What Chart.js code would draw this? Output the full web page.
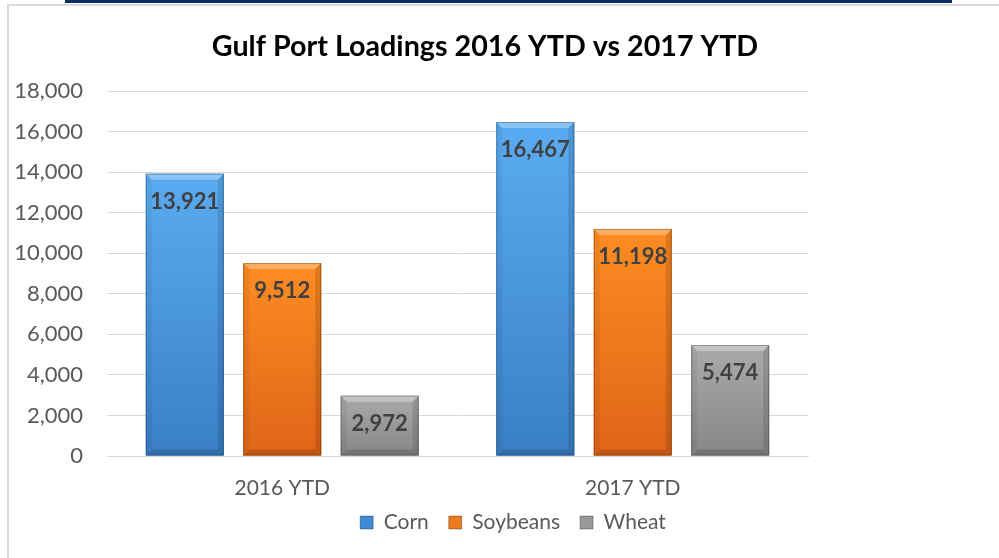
<!DOCTYPE html>
<html>
<head>
<meta charset="utf-8">
<script src="https://cdn.jsdelivr.net/npm/chart.js@4.4.1/dist/chart.umd.min.js"></script>
<style>
  html, body { margin: 0; padding: 0; background: #fff; overflow: hidden; }
  body { width: 999px; height: 558px; position: relative; }
  .navy { position: absolute; left: 65px; top: 0; width: 887px; height: 3px; background: #0c2a64; }
  .frame { position: absolute; left: 7px; top: 4px; right: -2px; bottom: -2px;
           border-top: 2px solid #d9d9d9; border-left: 2px solid #d9d9d9; }
  .wrap { position: absolute; left: 8px; top: 6px; width: 1010px; height: 552px; }
</style>
</head>
<body>
<div class="navy"></div>
<div class="frame"></div>
<div class="wrap"><canvas id="chart"></canvas></div>
<script>
// values
const TITLE = 'Gulf Port Loadings 2016 YTD vs 2017 YTD';
const categories = ['2016 YTD', '2017 YTD'];
const corn = [13921, 16467];
const soybeans = [9512, 11198];
const wheat = [2972, 5474];
const yTicks = [0, 2000, 4000, 6000, 8000, 10000, 12000, 14000, 16000, 18000];

const FONT = 'Lato, "Open Sans", sans-serif';

// top / bottom shades per series
const shades = {
  Corn:     { top: '#5aacf2', bottom: '#3a7fc4', legend: '#3f8bd4' },
  Soybeans: { top: '#fc8c22', bottom: '#df6518', legend: '#ec7a1e' },
  Wheat:    { top: '#aaaaaa', bottom: '#878787', legend: '#999999' },
};

/* ── gradient fill + bevel on each bar ───────────── */
const bevelPlugin = {
  id: 'bevel',
  afterDatasetsDraw(chart) {
    const c = chart.ctx;
    chart.data.datasets.forEach((ds, i) => {
      const s = shades[ds.label];
      chart.getDatasetMeta(i).data.forEach(bar => {
        const l = bar.x - bar.width / 2, r = bar.x + bar.width / 2;
        const t = bar.y, b = bar.base, d = 6;
        const poly = (pts, fill) => {
          c.beginPath();
          c.moveTo(pts[0][0], pts[0][1]);
          pts.slice(1).forEach(p => c.lineTo(p[0], p[1]));
          c.closePath();
          c.fillStyle = fill;
          c.fill();
        };
        c.save();
        const g = c.createLinearGradient(0, t, 0, b);
        g.addColorStop(0, s.top);
        g.addColorStop(1, s.bottom);
        c.fillStyle = g;
        c.fillRect(l, t, r - l, b - t);
        poly([[l, t], [r, t], [r - d, t + d], [l + d, t + d]], 'rgba(255,255,255,0.3)');
        poly([[l, b], [r, b], [r - d, b - d], [l + d, b - d]], 'rgba(0,0,0,0.14)');
        poly([[l, t], [l + d, t + d], [l + d, b - d], [l, b]], 'rgba(0,0,0,0.05)');
        poly([[r, t], [r - d, t + d], [r - d, b - d], [r, b]], 'rgba(0,0,0,0.12)');
        c.strokeStyle = 'rgba(0,0,0,0.25)';
        c.lineWidth = 1;
        c.strokeRect(l + 0.5, t + 0.5, r - l - 1, b - t - 1);
        c.restore();
      });
    });
  },
};

/* ── value labels inside the top of each bar ─────── */
const valueLabels = {
  id: 'valueLabels',
  afterDatasetsDraw(chart) {
    const c = chart.ctx;
    c.save();
    c.font = 'bold 22px ' + FONT;
    c.fillStyle = '#404040';
    c.textAlign = 'center';
    c.textBaseline = 'middle';
    chart.data.datasets.forEach((ds, i) => {
      chart.getDatasetMeta(i).data.forEach((bar, j) => {
        c.fillText(ds.data[j].toLocaleString('en-US'), bar.x, bar.y + 28);
      });
    });
    c.restore();
  },
};

/* ── title placed over the plot like the original ── */
const titleText = {
  id: 'titleText',
  afterDraw(chart) {
    const c = chart.ctx;
    c.save();
    c.font = 'bold 28.7px ' + FONT;
    c.fillStyle = '#000';
    c.textAlign = 'center';
    c.textBaseline = 'middle';
    c.fillText(TITLE, 477, 41);
    c.restore();
  },
};

// legend sits a little closer to the axis labels than Chart.js puts it
const legendNudge = {
  id: 'legendNudge',
  afterLayout(chart) {
    chart.legend.top -= 12;
    chart.legend.bottom -= 12;
  },
};

new Chart(document.getElementById('chart'), {
  type: 'bar',
  data: {
    labels: categories,
    datasets: [
      { label: 'Corn', data: corn },
      { label: 'Soybeans', data: soybeans },
      { label: 'Wheat', data: wheat },
    ].map(ds => ({
      ...ds,
      backgroundColor: shades[ds.label].legend,
      borderWidth: 0,
      categoryPercentage: 0.834,
      barPercentage: 0.8,
    })),
  },
  plugins: [bevelPlugin, valueLabels, titleText, legendNudge],
  options: {
    responsive: true,
    maintainAspectRatio: false,
    animation: false,
    layout: { padding: { top: 85, left: 0, right: 0, bottom: 3 } },
    plugins: {
      title: { display: false },
      tooltip: { enabled: false },
      legend: {
        position: 'bottom',
        labels: {
          font: { family: FONT, size: 21 },
          color: '#595959',
          boxWidth: 13,
          boxHeight: 13,
          padding: 20,
          generateLabels: chart =>
            chart.data.datasets.map((ds, i) => ({
              text: ds.label,
              fillStyle: shades[ds.label].legend,
              strokeStyle: 'rgba(0,0,0,0.3)',
              lineWidth: 1,
              datasetIndex: i,
              fontColor: '#595959',
            })),
        },
      },
    },
    scales: {
      x: {
        grid: { display: false, drawTicks: false },
        border: { color: '#d9d9d9', width: 1 },
        ticks: { font: { family: FONT, size: 21 }, color: '#595959', padding: 20 },
        afterFit: scale => { scale.height = 48; },
      },
      y: {
        min: 0,
        max: 18000,
        afterBuildTicks: scale => { scale.ticks = yTicks.map(v => ({ value: v })); },
        afterFit: scale => { scale.width = 99; },
        grid: { color: '#d9d9d9', lineWidth: 1, drawTicks: false },
        border: { display: false },
        ticks: {
          font: { family: FONT, size: 22 },
          color: '#595959',
          padding: 24,
          callback: v => v.toLocaleString('en-US'),
        },
      },
      // blank strip on the right so the plot ends where the original does
      spacer: {
        position: 'right',
        display: true,
        grid: { display: false, drawTicks: false },
        border: { display: false },
        ticks: { display: false },
        afterFit: scale => { scale.width = 210; },
      },
    },
  },
});
</script>
</body>
</html>
